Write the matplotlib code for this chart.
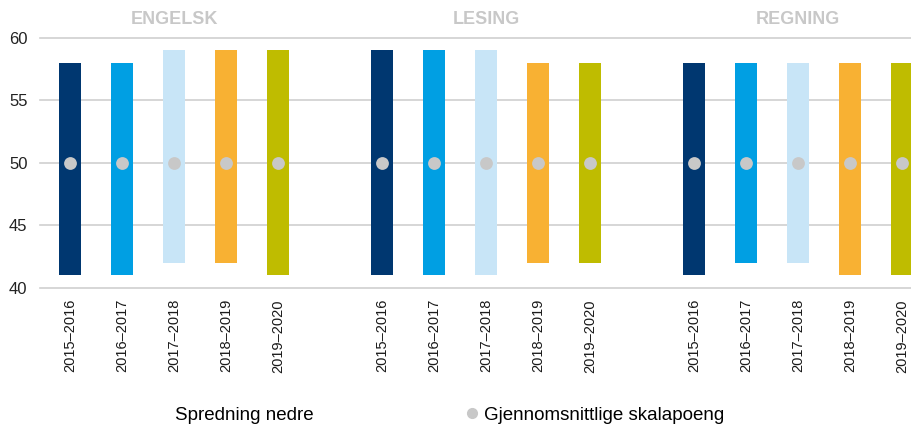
import matplotlib
matplotlib.use('Agg')
import matplotlib.pyplot as plt
from matplotlib.lines import Line2D

plt.rcParams['font.family'] = ['Liberation Sans', 'DejaVu Sans']

# data
subjects = ['ENGELSK', 'LESING', 'REGNING']
years = ['2015\u20132016', '2016\u20132017', '2017\u20132018', '2018\u20132019', '2019\u20132020']
upper = {
    'ENGELSK': [58, 58, 59, 59, 59],
    'LESING': [59, 59, 59, 58, 58],
    'REGNING': [58, 58, 58, 58, 58],
}
lower = {
    'ENGELSK': [41, 41, 42, 42, 41],
    'LESING': [41, 41, 41, 42, 42],
    'REGNING': [41, 42, 42, 41, 41],
}
mean = {
    'ENGELSK': [50, 50, 50, 50, 50],
    'LESING': [50, 50, 50, 50, 50],
    'REGNING': [50, 50, 50, 50, 50],
}
colors = ['#003770', '#009FE3', '#C8E5F7', '#F8B133', '#BFBC00']
grey = '#C8C8C8'

fig = plt.figure(figsize=(9.12, 4.28), dpi=100)
ax = fig.add_axes([40 / 912, 1 - 288 / 428, 1 - 40 / 912, 250 / 428])

xpos = []
xlabels = []
for g, subj in enumerate(subjects):
    for i in range(len(years)):
        x = g * 6 + i
        lo, hi = lower[subj][i], upper[subj][i]
        ax.bar(x, hi - lo, bottom=lo, width=0.42, color=colors[i], zorder=2)
        ax.scatter(x, mean[subj][i], s=85, color=grey, zorder=3, linewidths=0)
        xpos.append(x)
        xlabels.append(years[i])
    ax.text(g * 6 + 2, 61.46, subj, ha='center', va='center', fontsize=13,
            fontweight='bold', color=grey, clip_on=False)

ax.set_xlim(-0.58, 16.19)
ax.set_ylim(40, 60)
ax.set_yticks([40, 45, 50, 55, 60])
ax.set_xticks(xpos)
ax.set_xticklabels(xlabels, rotation=90, fontsize=10.5, color='#1a1a1a')
ax.tick_params(axis='y', labelsize=12, colors='#222222', length=0, pad=9)
ax.tick_params(axis='x', length=0, pad=8)
ax.grid(axis='y', color='#D0D0D0', linewidth=1.2, zorder=0)
ax.set_axisbelow(True)
for line in ax.get_ygridlines():
    line.set_clip_on(False)
for s in ax.spines.values():
    s.set_visible(False)

handles = [
    Line2D([], [], linestyle='none', marker='o', markersize=7, color='white'),
    Line2D([], [], linestyle='none', marker='o', markersize=7, color=grey),
]
fig.legend(handles, ['Spredning nedre', 'Gjennomsnittlige skalapoeng'],
           loc='center', bbox_to_anchor=(439 / 912, 1 - 415 / 428), ncol=2,
           frameon=False, fontsize=13.5, handletextpad=0.15, columnspacing=7.9,
           handlelength=1.0, borderaxespad=0)

fig.savefig('out.png', dpi=100)
